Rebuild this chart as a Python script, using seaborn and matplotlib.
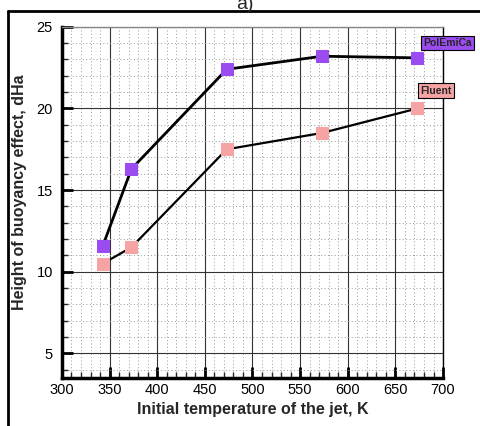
import pandas as pd
import seaborn as sns
import matplotlib.pyplot as plt
from matplotlib.lines import Line2D
from matplotlib.ticker import MultipleLocator

# data
temperature = [343, 373, 473, 573, 673]
polemica = [11.6, 16.3, 22.4, 23.2, 23.1]
fluent = [10.5, 11.5, 17.5, 18.5, 20.0]

purple = '#9b4cf0'
pink = '#f5a3a3'

sns.set_style('ticks')
plt.rcParams['font.family'] = ['Liberation Sans', 'DejaVu Sans']

fig = plt.figure(figsize=(4.8, 4.26), dpi=100)
ax = fig.add_axes([0.129, 0.113, 0.794, 0.824])

df = pd.DataFrame({'T': temperature, 'PolEmiCa': polemica, 'Fluent': fluent})

sns.lineplot(data=df, x='T', y='Fluent', ax=ax, color='black', lw=1.6,
             marker='s', markersize=9, markerfacecolor=pink,
             markeredgecolor=pink, zorder=3)
sns.lineplot(data=df, x='T', y='PolEmiCa', ax=ax, color='black', lw=2.0,
             marker='s', markersize=9, markerfacecolor=purple,
             markeredgecolor=purple, zorder=3)

ax.set_xlim(300, 700)
ax.set_ylim(3.5, 25)
ax.xaxis.set_major_locator(MultipleLocator(50))
ax.xaxis.set_minor_locator(MultipleLocator(10))
ax.yaxis.set_major_locator(MultipleLocator(5))
ax.yaxis.set_minor_locator(MultipleLocator(1))

ax.grid(which='major', color='#333333', lw=0.8, ls='-')
ax.grid(which='minor', color='#999999', lw=0.7, ls=(0, (1, 2.5)))
ax.set_axisbelow(True)

ax.tick_params(which='major', direction='in', length=8, width=2, labelsize=10.5,
               colors='black')
ax.tick_params(which='minor', direction='in', length=4, width=1)
ax.tick_params(axis='x', which='major', pad=4)
ax.tick_params(axis='y', which='major', pad=6.5)

for side in ['left', 'bottom']:
    ax.spines[side].set_linewidth(2.5)
    ax.spines[side].set_color('black')
ax.spines['right'].set_linewidth(1)
ax.spines['right'].set_color('black')
ax.spines['top'].set_linewidth(1)
ax.spines['top'].set_color('#888888')

ax.set_xlabel('Initial temperature of the jet, K', fontsize=11.5, fontweight='bold')
ax.set_ylabel('Height of buoyancy effect, dHa', fontsize=11.5, fontweight='bold')
ax.xaxis.set_label_coords(0.50, -0.068)
ax.yaxis.set_label_coords(-0.092, 0.53)

ax.text(679, 24.0, 'PolEmiCa', fontsize=7.5, fontweight='bold', ha='left',
        va='center', zorder=5,
        bbox=dict(boxstyle='square,pad=0.2', fc=purple, ec='black', lw=0.8))
ax.text(676, 21.1, 'Fluent', fontsize=7.5, fontweight='bold', ha='left',
        va='center', zorder=5,
        bbox=dict(boxstyle='square,pad=0.2', fc=pink, ec='black', lw=0.8))

# panel title and frame of the cropped figure
fig.text(0.51, 0.978, 'a)', fontsize=14, ha='center', va='baseline')
fig.add_artist(Line2D([0.016, 0.016], [0.0, 0.975], color='black', lw=2.0))
fig.add_artist(Line2D([0.016, 1.0], [0.975, 0.975], color='black', lw=2.0))

fig.savefig('out.png', dpi=100)
